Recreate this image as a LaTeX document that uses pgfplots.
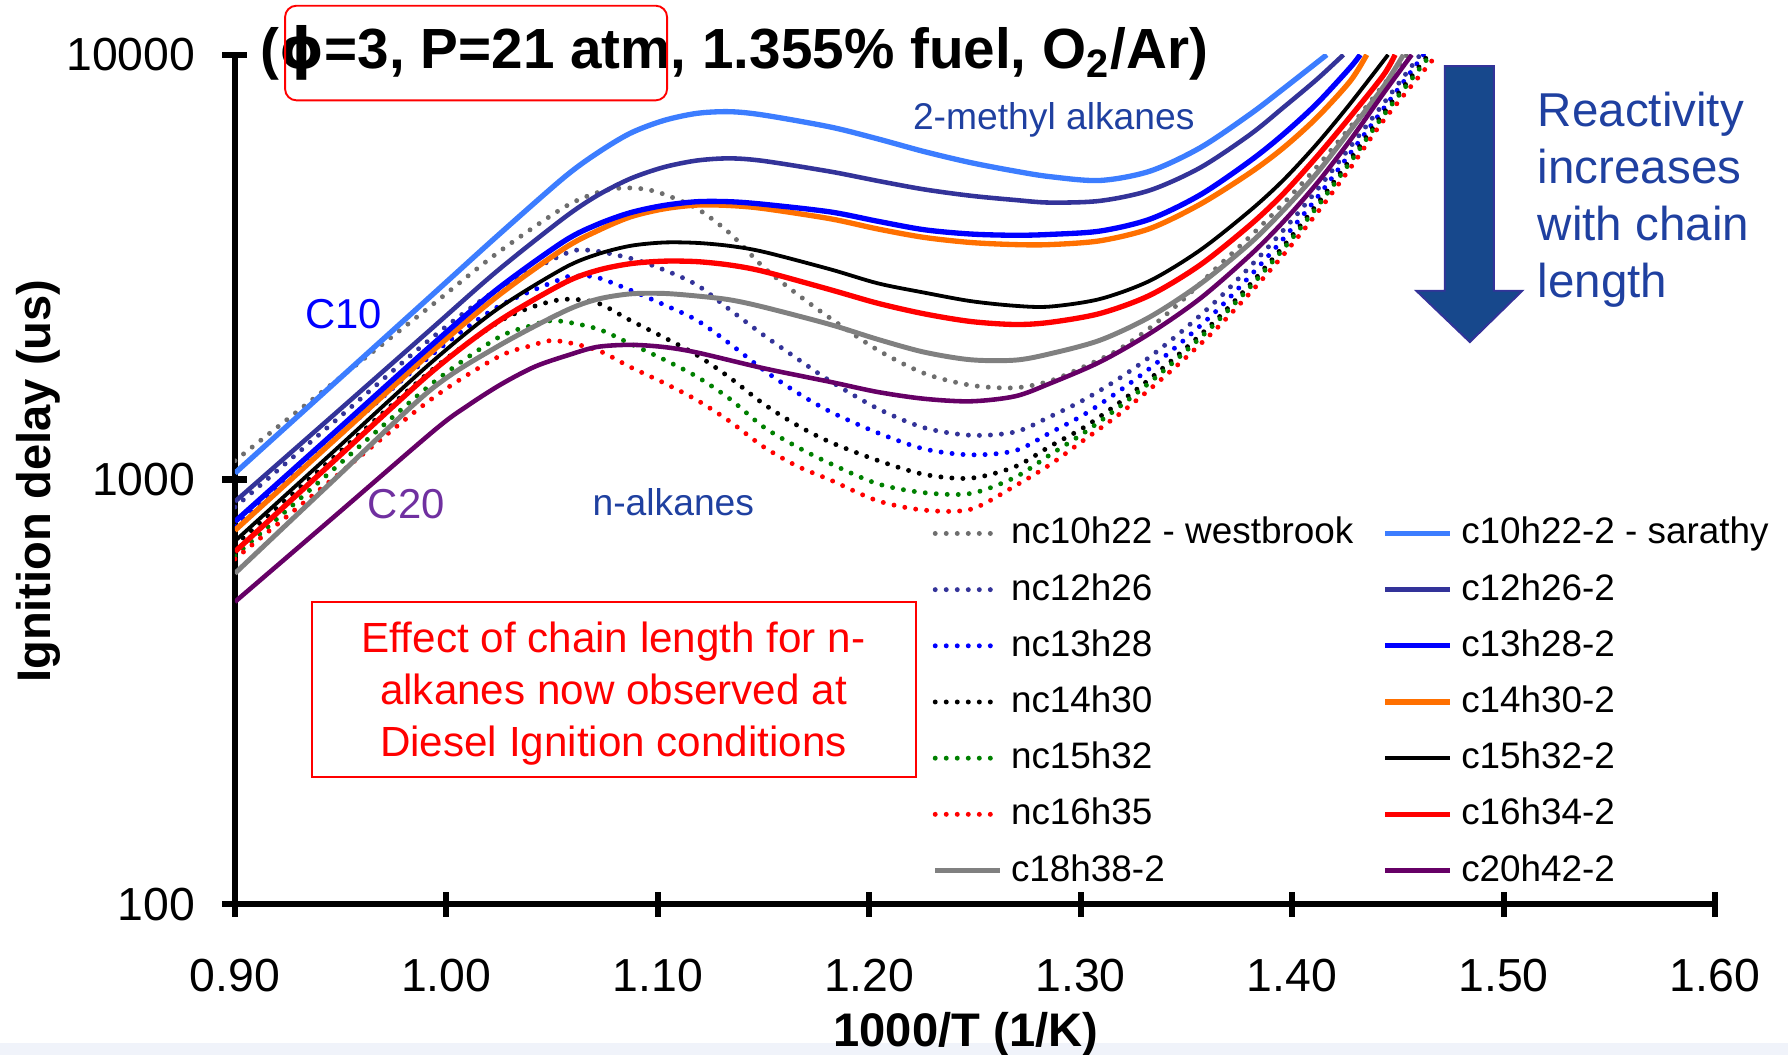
\documentclass[border=0pt]{standalone}
\usepackage{fontspec}
\setmainfont{Liberation Sans}
\newfontfamily\dejavu{DejaVu Sans}
\usepackage{pgfplots}
\pgfplotsset{compat=1.18}

\definecolor{lblue}{HTML}{3C7DFF}
\definecolor{navy}{HTML}{333399}
\definecolor{pblue}{HTML}{0000FF}
\definecolor{orng}{HTML}{FF7000}
\definecolor{gsolid}{HTML}{808080}
\definecolor{purp}{HTML}{660066}
\definecolor{gdot}{HTML}{6E6E6E}
\definecolor{gdark}{HTML}{008000}
\definecolor{txtblue}{HTML}{1F40A0}
\definecolor{c20col}{HTML}{7030A0}
\definecolor{arrowfill}{HTML}{17488C}
\definecolor{stripcol}{HTML}{F0F3FA}

\pgfplotsset{
  dotsty/.style={line width=1.3pt, line cap=round, dash pattern=on 0pt off 2.9pt},
  solsty/.style={line width=1.2pt},
}

\begin{document}
\begin{tikzpicture}
\begin{axis}[
  at={(61.8pt,39.6pt)}, anchor=south west,
  scale only axis, width=389.4pt, height=223.5pt,
  xmin=0.9, xmax=1.6, ymin=100, ymax=10000, ymode=log,
  axis lines=left, axis line style={line width=1.6pt,-},
  xtick={0.9,1.0,1.1,1.2,1.3,1.4,1.5,1.6},
  xticklabels={0.90,1.00,1.10,1.20,1.30,1.40,1.50,1.60},
  ytick={100,1000,10000}, yticklabels={100,1000,10000},
  yminorticks=false,
  tick align=center, major tick length=6.6pt,
  tick style={line width=1.6pt, black},
  tick label style={font=\fontsize{12.2}{14}\selectfont},
  xticklabel style={yshift=-7.5pt},
  yticklabel style={xshift=-3.6pt},
  legend columns=2,
  legend cell align=left,
  legend style={at={(0.4715,0.4645)}, anchor=north west, draw=none, fill=none,
    inner sep=0pt, outer sep=0pt,
    font=\fontsize{9.7}{11}\selectfont, row sep=2.25pt, column sep=0.3pt,
    /tikz/every even column/.append style={column sep=5.7pt}},
  legend image code/.code={\draw[#1] (0pt,0pt) -- (17pt,0pt);},
]
% n-alkanes (dotted)
\addplot[dotsty, gdot, smooth, forget plot] coordinates {
(0.90,1107)(0.946,1679)(0.9923,2553)(1.0238,3404)(1.0554,4365)(1.0712,4732)(1.0822,4853)(1.0932,4831)(1.1027,4699)(1.1185,4345)(1.134,3802)(1.15,3162)(1.1658,2735)(1.1815,2399)(1.204,2018)(1.226,1778)(1.248,1667)(1.269,1644)(1.2855,1706)(1.3013,1841)(1.317,2009)(1.3328,2275)(1.3486,2655)(1.3644,3155)(1.3801,3733)(1.3959,4467)(1.4117,5445)(1.4275,6761)(1.4432,8492)(1.4543,10000)};
\addplot[dotsty, navy, smooth, forget plot] coordinates {
(0.90,861)(0.946,1355)(0.9923,2138)(1.0238,2793)(1.0554,3388)(1.0672,3467)(1.0869,3319)(1.1027,3119)(1.1185,2871)(1.134,2512)(1.15,2188)(1.1658,1928)(1.1815,1706)(1.204,1469)(1.226,1324)(1.248,1271)(1.269,1294)(1.2855,1406)(1.3013,1538)(1.317,1714)(1.3328,1945)(1.3486,2249)(1.3644,2642)(1.3801,3170)(1.3959,3864)(1.4117,4797)(1.4275,6067)(1.4432,7674)(1.4606,10000)};
\addplot[dotsty, pblue, smooth, forget plot] coordinates {
(0.90,776)(0.946,1227)(0.9923,1950)(1.0238,2541)(1.0554,2979)(1.062,3013)(1.0712,2992)(1.0869,2793)(1.1027,2582)(1.1185,2371)(1.134,2089)(1.15,1811)(1.1658,1603)(1.1815,1445)(1.204,1288)(1.226,1180)(1.248,1143)(1.269,1169)(1.2855,1288)(1.3013,1419)(1.317,1600)(1.3328,1828)(1.3486,2123)(1.3644,2500)(1.3801,3013)(1.3959,3690)(1.4117,4603)(1.4275,5861)(1.4432,7464)(1.4622,10000)};
\addplot[dotsty, black, smooth, forget plot] coordinates {
(0.90,700)(0.946,1119)(0.9923,1795)(1.0238,2333)(1.04,2541)(1.0554,2655)(1.0712,2606)(1.0869,2371)(1.1027,2163)(1.1185,1963)(1.134,1738)(1.15,1507)(1.1658,1343)(1.1815,1225)(1.204,1109)(1.226,1028)(1.248,1007)(1.269,1072)(1.2855,1197)(1.3013,1324)(1.317,1500)(1.3328,1726)(1.3486,2014)(1.3644,2382)(1.3801,2877)(1.3959,3540)(1.4117,4436)(1.4275,5662)(1.4432,7278)(1.4645,10000)};
\addplot[dotsty, gdark, smooth, forget plot] coordinates {
(0.90,661)(0.946,1050)(0.9923,1667)(1.0238,2148)(1.04,2301)(1.0515,2366)(1.0712,2265)(1.0869,2089)(1.1027,1919)(1.1185,1746)(1.134,1549)(1.15,1330)(1.1658,1194)(1.1815,1091)(1.204,977)(1.226,931)(1.248,927)(1.269,1012)(1.2855,1143)(1.3013,1285)(1.317,1466)(1.3328,1694)(1.3486,1982)(1.3644,2350)(1.3801,2838)(1.3959,3491)(1.4117,4375)(1.4275,5585)(1.4432,7194)(1.4655,10000)};
\addplot[dotsty, red, smooth, forget plot] coordinates {
(0.90,650)(0.946,1000)(0.9923,1538)(1.0238,1936)(1.04,2065)(1.0515,2123)(1.0712,2018)(1.0869,1841)(1.1027,1690)(1.1185,1538)(1.134,1371)(1.15,1194)(1.1658,1076)(1.1815,998)(1.204,891)(1.226,847)(1.248,851)(1.269,966)(1.2855,1084)(1.3013,1236)(1.317,1409)(1.3328,1633)(1.3486,1914)(1.3644,2270)(1.3801,2748)(1.3959,3381)(1.4117,4236)(1.4275,5408)(1.4432,6998)(1.4685,10000)};
% 2-methyl alkanes (solid)
\addplot[solsty, gsolid, line width=1.3pt, smooth, forget plot] coordinates {
(0.90,601)(0.946,989)(0.9923,1622)(1.0238,2051)(1.0554,2483)(1.0712,2655)(1.0869,2735)(1.1027,2742)(1.1185,2704)(1.134,2649)(1.15,2547)(1.1815,2317)(1.204,2138)(1.226,1995)(1.248,1914)(1.269,1910)(1.2855,1977)(1.3092,2128)(1.3328,2415)(1.3565,2884)(1.3801,3597)(1.3959,4305)(1.4117,5260)(1.4275,6637)(1.4432,8414)(1.4527,10000)};
\addplot[solsty, purp, smooth, forget plot] coordinates {
(0.90,515)(0.947,818)(0.9946,1309)(1.0104,1496)(1.0262,1679)(1.042,1845)(1.0577,1963)(1.0712,2051)(1.0869,2075)(1.1027,2051)(1.1185,1991)(1.15,1828)(1.1815,1698)(1.204,1607)(1.226,1549)(1.248,1528)(1.269,1570)(1.2855,1683)(1.3092,1892)(1.3328,2208)(1.3565,2667)(1.3801,3373)(1.3959,4046)(1.4117,4977)(1.4275,6295)(1.4432,8110)(1.4566,10000)};
\addplot[solsty, red, line width=1.4pt, smooth, forget plot] coordinates {
(0.90,676)(0.946,1096)(0.9923,1778)(1.0238,2344)(1.0554,2897)(1.0712,3105)(1.0869,3221)(1.1027,3266)(1.1185,3258)(1.134,3199)(1.15,3090)(1.1815,2799)(1.204,2600)(1.226,2455)(1.248,2355)(1.269,2317)(1.2855,2344)(1.3092,2460)(1.3328,2716)(1.3565,3199)(1.3801,3972)(1.3959,4710)(1.4117,5754)(1.4275,7145)(1.4432,8954)(1.4487,10000)};
\addplot[solsty, black, line width=1.0pt, smooth, forget plot] coordinates {
(0.90,716)(0.946,1156)(0.9923,1875)(1.0238,2512)(1.0554,3141)(1.0712,3388)(1.0869,3548)(1.1027,3614)(1.1185,3606)(1.134,3548)(1.15,3436)(1.1815,3126)(1.204,2897)(1.226,2754)(1.248,2630)(1.269,2564)(1.2855,2553)(1.3092,2661)(1.3328,2938)(1.3565,3467)(1.3801,4295)(1.3959,5070)(1.4117,6166)(1.4275,7674)(1.4454,10000)};
\addplot[solsty, orng, line width=1.4pt, smooth, forget plot] coordinates {
(0.90,759)(0.946,1225)(0.9923,1982)(1.0238,2692)(1.0554,3491)(1.0712,3846)(1.0869,4150)(1.1027,4335)(1.1185,4426)(1.134,4416)(1.15,4345)(1.1815,4111)(1.204,3890)(1.226,3715)(1.248,3614)(1.269,3573)(1.2855,3573)(1.3092,3648)(1.3328,3899)(1.3565,4446)(1.3801,5272)(1.3959,6039)(1.4117,7112)(1.4275,8670)(1.4353,10000)};
\addplot[solsty, pblue, line width=1.4pt, smooth, forget plot] coordinates {
(0.90,796)(0.946,1276)(0.9923,2056)(1.0238,2799)(1.0554,3631)(1.0712,3981)(1.0869,4246)(1.1027,4416)(1.1185,4508)(1.134,4508)(1.15,4446)(1.1815,4266)(1.204,4055)(1.226,3873)(1.248,3784)(1.269,3758)(1.2855,3776)(1.3092,3846)(1.3328,4102)(1.3565,4677)(1.3801,5623)(1.3959,6501)(1.4117,7674)(1.4275,9333)(1.4322,10000)};
\addplot[solsty, navy, smooth, forget plot] coordinates {
(0.90,887)(0.946,1409)(0.9923,2249)(1.0238,3090)(1.0554,4121)(1.0712,4656)(1.0869,5105)(1.1027,5433)(1.1185,5636)(1.134,5702)(1.15,5623)(1.1815,5309)(1.204,5047)(1.226,4819)(1.248,4656)(1.269,4550)(1.2855,4487)(1.3092,4529)(1.3328,4797)(1.3565,5420)(1.3801,6486)(1.3959,7516)(1.4117,8750)(1.4243,10000)};
\addplot[solsty, lblue, line width=1.4pt, smooth, forget plot] coordinates {
(0.90,1035)(0.946,1667)(0.9923,2692)(1.0238,3733)(1.0554,5129)(1.0712,5861)(1.0869,6531)(1.1027,6998)(1.1185,7278)(1.134,7345)(1.15,7211)(1.1815,6761)(1.204,6339)(1.226,5916)(1.248,5572)(1.269,5321)(1.2855,5164)(1.3092,5058)(1.3328,5321)(1.3565,6039)(1.3801,7244)(1.3959,8318)(1.4164,10000)};

% legend (two columns)
\addlegendimage{dotsty, gdot}\addlegendentry{nc10h22 - westbrook}
\addlegendimage{solsty, lblue, line width=1.4pt}\addlegendentry{c10h22-2 - sarathy}
\addlegendimage{dotsty, navy}\addlegendentry{nc12h26}
\addlegendimage{solsty, navy}\addlegendentry{c12h26-2}
\addlegendimage{dotsty, pblue}\addlegendentry{nc13h28}
\addlegendimage{solsty, pblue, line width=1.4pt}\addlegendentry{c13h28-2}
\addlegendimage{dotsty, black}\addlegendentry{nc14h30}
\addlegendimage{solsty, orng, line width=1.4pt}\addlegendentry{c14h30-2}
\addlegendimage{dotsty, gdark}\addlegendentry{nc15h32}
\addlegendimage{solsty, black, line width=1.0pt}\addlegendentry{c15h32-2}
\addlegendimage{dotsty, red}\addlegendentry{nc16h35}
\addlegendimage{solsty, red, line width=1.4pt}\addlegendentry{c16h34-2}
\addlegendimage{solsty, gsolid, line width=1.3pt}\addlegendentry{c18h38-2}
\addlegendimage{solsty, purp}\addlegendentry{c20h42-2}
\end{axis}

\begin{scope}[x=0.3pt,y=-0.3pt,shift={(0pt,277.5pt)}]
  \fill[stripcol] (0,915) rectangle (1568,925);
  % title
  \node[anchor=base west, inner sep=0pt, font=\fontsize{14.9}{18}\selectfont\bfseries]
    at (228,60) {({\dejavu ϕ}=3, P=21 atm, 1.355\% fuel, O\textsubscript{2}/Ar)};
  \draw[red, line width=0.5pt, rounded corners=3pt] (250,5) rectangle (585,88);
  % annotations
  \node[anchor=base west, inner sep=0pt, text=txtblue, font=\fontsize{9.8}{12}\selectfont]
    at (800,114) {2-methyl alkanes};
  \node[anchor=base west, inner sep=0pt, text=txtblue, font=\fontsize{12.5}{15}\selectfont] at (1348,111) {Reactivity};
  \node[anchor=base west, inner sep=0pt, text=txtblue, font=\fontsize{12.5}{15}\selectfont] at (1348,161) {increases};
  \node[anchor=base west, inner sep=0pt, text=txtblue, font=\fontsize{12.5}{15}\selectfont] at (1348,211) {with chain};
  \node[anchor=base west, inner sep=0pt, text=txtblue, font=\fontsize{12.5}{15}\selectfont] at (1348,261) {length};
  \filldraw[fill=arrowfill, draw=navy, line width=0.5pt]
    (1267,58) -- (1310,58) -- (1310,255) -- (1335,255) -- (1289,300) -- (1242,255) -- (1267,255) -- cycle;
  \node[anchor=base west, inner sep=0pt, text=pblue, font=\fontsize{11}{13}\selectfont] at (267,288) {C10};
  \node[anchor=base west, inner sep=0pt, text=c20col, font=\fontsize{11}{13}\selectfont] at (322,455) {C20};
  \node[anchor=base west, inner sep=0pt, text=txtblue, font=\fontsize{9.8}{12}\selectfont] at (519,452) {n-alkanes};
  % red box
  \draw[red, line width=0.5pt] (274,528) rectangle (803,681);
  \node[anchor=base, inner sep=0pt, text=red, font=\fontsize{11.1}{13}\selectfont] at (538,572) {Effect of chain length for n-};
  \node[anchor=base, inner sep=0pt, text=red, font=\fontsize{11.1}{13}\selectfont] at (538,618) {alkanes now observed at};
  \node[anchor=base, inner sep=0pt, text=red, font=\fontsize{11.1}{13}\selectfont] at (538,663) {Diesel Ignition conditions};
  % axis titles
  \node[anchor=base, inner sep=0pt, font=\fontsize{12.4}{14}\selectfont\bfseries] at (847,918) {1000/T (1/K)};
  \node[rotate=90, anchor=base, inner sep=0pt, font=\fontsize{12.4}{14}\selectfont\bfseries] at (44,422) {Ignition delay (us)};
  \pgfresetboundingbox
  \path[use as bounding box] (0,0) rectangle (1568,925);
\end{scope}
\end{tikzpicture}
\end{document}
